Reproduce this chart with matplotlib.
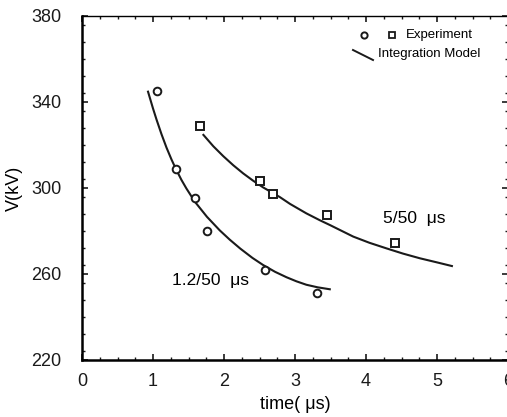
import matplotlib
matplotlib.use("Agg")
import matplotlib.pyplot as plt
from matplotlib.ticker import MultipleLocator

# Experimental data
t_12 = [1.05, 1.33, 1.59, 1.76, 2.58, 3.31]
v_12 = [345.3, 309.0, 295.2, 280.1, 261.9, 251.0]
t_5 = [1.66, 2.51, 2.69, 3.45, 4.41]
v_5 = [329.0, 303.3, 297.1, 287.4, 274.3]

# Integration model curves
mt_12 = [0.93, 1.00, 1.05, 1.12, 1.19, 1.26, 1.32, 1.40, 1.47, 1.59, 1.76, 1.94,
         2.08, 2.23, 2.40, 2.55, 2.72, 2.88, 3.02, 3.16, 3.32, 3.49]
mv_12 = [344.8, 337.0, 331.8, 325.0, 318.8, 313.3, 309.0, 303.8, 299.8, 293.6,
         286.6, 280.3, 276.0, 271.8, 267.5, 264.2, 261.0, 258.5, 256.6, 255.0,
         253.8, 252.9]
mt_5 = [1.71, 1.85, 1.99, 2.13, 2.27, 2.41, 2.55, 2.79, 2.93, 3.16, 3.35, 3.49,
        3.82, 4.05, 4.29, 4.52, 4.76, 5.00, 5.21]
mv_5 = [324.7, 319.4, 314.8, 310.6, 306.8, 303.4, 300.3, 295.7, 292.6, 288.2,
        285.0, 282.8, 277.4, 274.5, 271.9, 269.5, 267.3, 265.4, 263.7]

xticks = [0, 1, 2, 3, 4, 5, 6]
yticks = [220, 260, 300, 340, 380]

FONT = ['Liberation Sans', 'DejaVu Sans']
plt.rcParams['font.family'] = FONT

fig = plt.figure(figsize=(5.07, 4.17), dpi=100)
ax = fig.add_axes([82/507, 1-360/417, (508-82)/507, 344/417])

ax.plot(mt_12, mv_12, color='#1a1a1a', lw=1.5)
ax.plot(mt_5, mv_5, color='#1a1a1a', lw=1.5)
ax.plot(t_12, v_12, 'o', mfc='white', mec='#1a1a1a', mew=1.4, ms=5.5, ls='none')
ax.plot(t_5, v_5, 's', mfc='white', mec='#1a1a1a', mew=1.4, ms=6, ls='none')

ax.set_xlim(0, 6)
ax.set_ylim(220, 380)
ax.set_xticks(xticks)
ax.set_yticks(yticks)
ax.xaxis.set_minor_locator(MultipleLocator(0.25))
ax.yaxis.set_minor_locator(MultipleLocator(8))
ax.tick_params(which='both', direction='in', top=True, right=True, colors='#1a1a1a')
ax.tick_params(which='major', length=4, width=1.2, labelsize=13)
ax.tick_params(axis='y', which='major', pad=15)
ax.tick_params(axis='x', which='major', pad=9)
ax.tick_params(which='minor', length=2.5, width=1.0)
for s in ['left', 'bottom']:
    ax.spines[s].set_linewidth(1.8)
for s in ['top', 'right']:
    ax.spines[s].set_linewidth(1.0)

ax.set_xlabel('time( \u03bcs)', fontsize=13, labelpad=5)
ax.set_ylabel('V(kV)', fontsize=13, labelpad=6)

ax.text(1.27, 257.2, '1.2/50  \u03bcs', fontsize=12.5, va='center', ha='left')
ax.text(4.24, 286.0, '5/50  \u03bcs', fontsize=12.5, va='center', ha='left')

# legend (manual)
tr = ax.transAxes
def axc(px, py):
    return ((px - 82) / 426, (360 - py) / 344)
ax.plot(*axc(364, 35), 'o', transform=tr, mfc='white', mec='#1a1a1a', mew=1.4, ms=4.5, clip_on=False)
ax.plot(*axc(392, 35), 's', transform=tr, mfc='white', mec='#1a1a1a', mew=1.3, ms=5, clip_on=False)
x0, y0 = axc(353, 50)
x1, y1 = axc(373, 60)
ax.plot([x0, x1], [y0, y1], color='#1a1a1a', lw=1.4, transform=tr)
ax.text(*axc(406, 35), 'Experiment', transform=tr, fontsize=9.5, va='center', ha='left')
ax.text(*axc(378, 54), 'Integration Model', transform=tr, fontsize=9.5, va='center', ha='left')

fig.savefig('out.png', dpi=100)
